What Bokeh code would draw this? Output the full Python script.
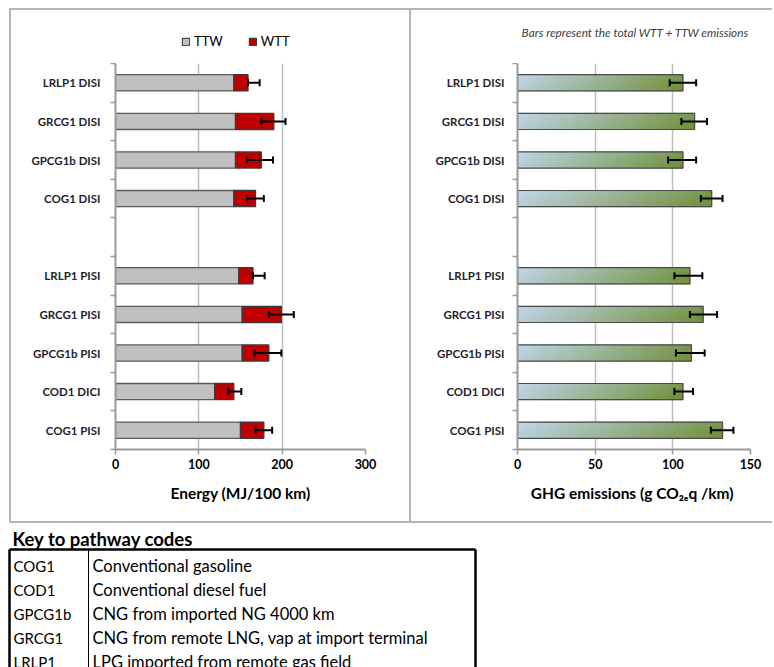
from bokeh.plotting import figure
from bokeh.models import (ColumnDataSource, FixedTicker, Legend, LegendItem, Whisker,
                          TeeHead)
from bokeh.layouts import row, column
from bokeh.embed import file_html
from bokeh.resources import INLINE
from bokeh.core.properties import value

FONT = "Lato"

# ---------------- data (bottom-to-top order, "" = gap row) ----------------
rows = ["COG1 PISI", "COD1 DICI", "GPCG1b PISI", "GRCG1 PISI", "LRLP1 PISI", "",
        "COG1 DISI", "GPCG1b DISI", "GRCG1 DISI", "LRLP1 DISI"]

ttw_energy = [150, 119, 152, 152, 148, 142, 144, 144, 142]
wtt_energy = [28, 23, 32, 47, 17, 26, 31, 46, 17]
energy_err_low = [168, 135, 167, 184, 165, 158, 158, 175, 159]
energy_err_high = [188, 151, 199, 214, 179, 178, 189, 204, 173]

ghg_total = [132, 106.5, 112, 119.5, 111, 125, 106.5, 114, 106.5]
ghg_err_low = [124.5, 101, 102, 111, 101, 118, 97, 105.5, 98]
ghg_err_high = [139, 113, 120.5, 128.5, 119, 132, 115, 122, 115]

energy_ticks = [0, 100, 200, 300]
ghg_ticks = [0, 50, 100, 150]

series_names = ["TTW", "WTT"]
note_text = "Bars represent the total WTT + TTW emissions"
table_title = "Key to pathway codes"
codes = ["COG1", "COD1", "GPCG1b", "GRCG1", "LRLP1"]
descriptions = ["Conventional gasoline", "Conventional diesel fuel",
                "CNG from imported NG 4000 km",
                "CNG from remote LNG, vap at import terminal",
                "LPG imported from remote gas field"]

# ---------------- derived / style ----------------
slots = [i + 0.5 for i, r in enumerate(rows) if r]
labels = [r for r in rows if r]
boundaries = list(range(len(rows) + 1))
BAR_H = 0.42
GRID = "#bdbdbd"
AXIS = "#9a9a9a"
LABEL_COL = "#1f1f2e"
PANEL_LINE = "2px solid #b4b4b4"
TTW_FILL, WTT_FILL = "#c0c0c0", "#c00000"
HEAD_H = 53
CHART_H = 458


def header_fig(width, xr):
    h = figure(width=width, height=HEAD_H, x_range=xr, y_range=(0, len(rows)),
               output_backend="svg", toolbar_location=None,
               x_axis_type=None, y_axis_type=None, min_border=0)
    h.title.visible = False
    h.outline_line_color = None
    h.grid.visible = False
    return h


def make_fig(width, xr, ticks, mb_left, mb_right, xlabel):
    p = figure(width=width, height=CHART_H, x_range=xr, y_range=(0, len(rows)),
               output_backend="svg", toolbar_location=None,
               min_border_left=mb_left, min_border_right=mb_right,
               min_border_top=0, min_border_bottom=72)
    p.title.visible = False
    p.outline_line_color = None
    p.background_fill_color = "white"
    p.border_fill_color = "white"
    p.ygrid.visible = False
    p.xgrid.grid_line_color = GRID
    p.xgrid.grid_line_width = 1.5
    p.xgrid.ticker = FixedTicker(ticks=ticks)

    xa = p.xaxis[0]
    xa.ticker = FixedTicker(ticks=ticks)
    xa.axis_line_color = AXIS
    xa.axis_line_width = 2
    xa.major_tick_line_color = AXIS
    xa.major_tick_line_width = 1.5
    xa.major_tick_in = 0
    xa.major_tick_out = 5
    xa.minor_tick_line_color = None
    xa.major_label_text_font = FONT
    xa.major_label_text_font_style = "bold"
    xa.major_label_text_font_size = "12.5px"
    xa.major_label_text_color = "black"
    xa.major_label_standoff = 4
    xa.axis_label = xlabel
    xa.axis_label_text_font = FONT
    xa.axis_label_text_font_style = "bold"
    xa.axis_label_text_font_size = "15.5px"
    xa.axis_label_text_color = "black"
    xa.axis_label_standoff = 12

    ya = p.yaxis[0]
    ya.ticker = FixedTicker(ticks=slots, minor_ticks=boundaries)
    ya.major_label_overrides = {s: l for s, l in zip(slots, labels)}
    ya.axis_line_color = AXIS
    ya.axis_line_width = 2
    ya.major_tick_line_color = None
    ya.major_tick_in = 0
    ya.major_tick_out = 0
    ya.minor_tick_line_color = AXIS
    ya.minor_tick_line_width = 1.5
    ya.minor_tick_in = 0
    ya.minor_tick_out = 5
    ya.major_label_text_font = FONT
    ya.major_label_text_font_style = "bold"
    ya.major_label_text_font_size = "11.5px"
    ya.major_label_text_color = LABEL_COL
    return p


def whisker(src):
    return Whisker(source=src, base="y", lower="lo", upper="hi", dimension="width",
                   line_color="black", line_width=2,
                   lower_head=TeeHead(size=7, line_width=2, line_color="black"),
                   upper_head=TeeHead(size=7, line_width=2, line_color="black"),
                   level="annotation")


# ---------------- left chart: energy ----------------
p1 = make_fig(398, (0, 300), energy_ticks, 104, 44, "Energy (MJ/100 km)")
p1.yaxis[0].major_label_standoff = 10

total_energy = [t + w for t, w in zip(ttw_energy, wtt_energy)]
src1 = ColumnDataSource(dict(y=slots, ttw=ttw_energy, total=total_energy,
                             lo=energy_err_low, hi=energy_err_high))
p1.hbar(y="y", left=0, right="ttw", height=BAR_H, source=src1,
        fill_color=TTW_FILL, line_color="#5a5a5a", line_width=1.3)
p1.hbar(y="y", left="ttw", right="total", height=BAR_H, source=src1,
        fill_color=WTT_FILL, line_color="#3a3a3a", line_width=1.3)
p1.add_layout(whisker(src1))

# legend header (above the left chart); its frame is aligned with p1's frame
h1 = header_fig(398, (0, 300))
d_ttw = h1.hbar(y="y", left=0, right="ttw", height=BAR_H, source=src1,
                fill_color=TTW_FILL, line_color="#4a4a4a", line_width=1.2, visible=False)
d_wtt = h1.hbar(y="y", left="ttw", right="total", height=BAR_H, source=src1,
                fill_color=WTT_FILL, line_color="#3a3a3a", line_width=1.2, visible=False)
legend = Legend(items=[LegendItem(label=series_names[0], renderers=[d_ttw]),
                       LegendItem(label=series_names[1], renderers=[d_wtt])],
                orientation="horizontal", location=(66, 14),
                border_line_color=None, background_fill_alpha=0,
                inactive_fill_alpha=0,
                label_text_font=FONT, label_text_font_size="13px",
                label_text_color="black", label_height=14,
                glyph_width=9, glyph_height=9, spacing=25, padding=2,
                margin=0, label_standoff=4, click_policy="none")
h1.add_layout(legend)

# ---------------- right chart: GHG ----------------
p2 = make_fig(361, (0, 150), ghg_ticks, 106, 22, "GHG emissions  (g CO\u2082\u2091q /km)")
p2.yaxis[0].major_label_standoff = 8


def hex2rgb(hx):
    return tuple(int(hx[i:i + 2], 16) for i in (1, 3, 5))


C0 = hex2rgb("#c2d5eb")
C1 = hex2rgb("#6f8f38")


def mix(tv):
    tv = max(0.0, min(1.0, tv))
    return "#%02x%02x%02x" % tuple(int(round(a + (b - a) * tv)) for a, b in zip(C0, C1))


NX, NY = 32, 3
g = dict(left=[], right=[], y=[], h=[], c=[])
for yv, v in zip(slots, ghg_total):
    for k in range(NX):
        for j in range(NY):
            band_h = BAR_H / NY
            yc = yv + BAR_H / 2 - band_h * (j + 0.5)
            tt = 0.88 * (k + 0.5) / NX + 0.12 * (j + 0.5) / NY
            g["left"].append(v * k / NX)
            g["right"].append(v * (k + 1) / NX)
            g["y"].append(yc)
            g["h"].append(band_h)
            g["c"].append(mix(tt))
p2.hbar(y="y", left="left", right="right", height="h", fill_color="c",
        line_color="c", line_width=0.8, source=ColumnDataSource(g))

src2 = ColumnDataSource(dict(y=slots, total=ghg_total, lo=ghg_err_low, hi=ghg_err_high))
p2.hbar(y="y", left=0, right="total", height=BAR_H, source=src2,
        fill_color=None, line_color="#4a4a4a", line_width=1.2)
p2.add_layout(whisker(src2))

# note header (above the right chart); frame aligned with p2's frame (0..150)
h2 = header_fig(361, (0, 150))
h2.text(x=[ghg_ticks[-1]], y=[len(rows) * 0.58], text=[note_text], text_align="right",
        text_baseline="middle", x_offset=-1,
        text_font=value(FONT), text_font_style="italic", text_font_size="11.8px",
        text_color="#404040")

# ---------------- key table ----------------
TH = 144
t = figure(width=772, height=TH, x_range=(0, 772), y_range=(TH, 0),
           output_backend="svg", toolbar_location=None,
           x_axis_type=None, y_axis_type=None, min_border=0)
t.title.visible = False
t.outline_line_color = None
t.grid.visible = False
t.text(x=[12], y=[15], text=[table_title], text_font=value(FONT),
       text_font_style="bold", text_font_size="18.5px", text_baseline="middle",
       text_color="black")
row_y = [42 + 24 * i for i in range(len(codes))]
t.text(x=[13] * len(codes), y=row_y, text=codes, text_font=value(FONT),
       text_font_size="15px", text_baseline="middle", text_color="black")
t.text(x=[92] * len(codes), y=row_y, text=descriptions, text_font=value(FONT),
       text_font_size="16.5px", text_baseline="middle", text_color="black")
t.line(x=[9, 475], y=[26, 26], line_color="black", line_width=2.5)
t.line(x=[9, 9], y=[26, TH + 4], line_color="black", line_width=2.5)
t.line(x=[475, 475], y=[26, TH + 4], line_color="black", line_width=2.5)
t.line(x=[88, 88], y=[26, TH + 4], line_color="black", line_width=1)

left_col = column(h1, p1)
right_col = column(h2, p2, styles={"border-left": PANEL_LINE})
mid = row(left_col, right_col,
          styles={"border-top": PANEL_LINE, "border-left": PANEL_LINE,
                  "border-bottom": PANEL_LINE, "margin-left": "9px",
                  "margin-top": "8px"})
layout = column(mid, t)

open("out.html", "w").write(file_html(layout, INLINE))
